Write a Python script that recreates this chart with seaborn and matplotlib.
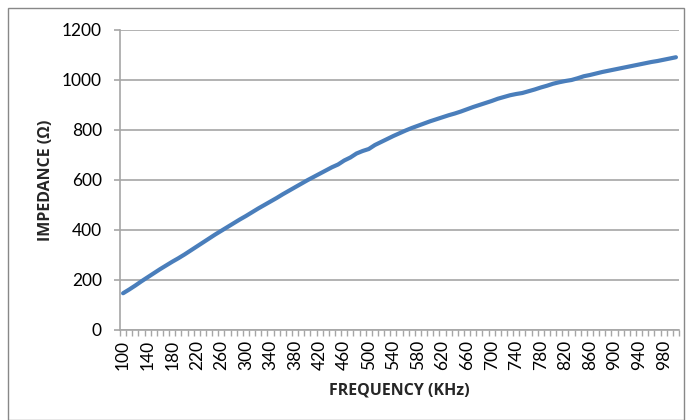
import matplotlib
matplotlib.use("Agg")
import matplotlib.pyplot as plt
from matplotlib.patches import Rectangle
from matplotlib.ticker import MultipleLocator
import seaborn as sns
import pandas as pd

# frequency points (kHz), one every 10 kHz
frequency = list(range(100, 1001, 10))

# impedance (ohm)
impedance = [
    147, 162, 178, 195, 211, 227, 243, 258, 273, 287,
    302, 318, 334, 350, 366, 382, 397, 412, 427, 442,
    456, 471, 486, 500, 514, 528, 543, 557, 571, 585,
    599, 612, 625, 638, 651, 662, 678, 690, 706, 716,
    724, 740, 752, 764, 776, 787, 798, 808, 817, 826,
    835, 843, 851, 859, 866, 874, 883, 892, 900, 908,
    916, 925, 932, 939, 944, 948, 955, 962, 970, 977,
    985, 991, 996, 1000, 1007, 1015, 1020, 1026, 1032, 1037,
    1042, 1047, 1052, 1057, 1062, 1067, 1072, 1076, 1081, 1086,
    1091, 1097,
][:len(frequency)]

x_labels = list(range(100, 1000, 40))
y_ticks = [0, 200, 400, 600, 800, 1000, 1200]

sns.set_theme(style="white")
plt.rcParams['font.family'] = ['Lato', 'DejaVu Sans']
bold_font = ['Open Sans', 'DejaVu Sans']

df = pd.DataFrame({'freq': frequency, 'imp': impedance})

fig = plt.figure(figsize=(6.9, 4.2), dpi=100)
ax = fig.add_axes([120 / 690, 1 - 330 / 420, 559 / 690, 300 / 420])

sns.lineplot(data=df, x='freq', y='imp', ax=ax, color='#4a7ebb', linewidth=3.0,
             solid_capstyle='round')

ax.set_xlim(95, 1005)
ax.set_ylim(0, 1200)
ax.set_yticks(y_ticks)
ax.set_xticks(x_labels)
ax.set_xticklabels([str(v) for v in x_labels], rotation=90)
ax.xaxis.set_minor_locator(MultipleLocator(10, offset=5))

grid_col = '#a6a6a6'
ax.yaxis.grid(True, color=grid_col, linewidth=1.2)
ax.xaxis.grid(False)
for side in ['top', 'right']:
    ax.spines[side].set_visible(False)
for side in ['left', 'bottom']:
    ax.spines[side].set_color(grid_col)
    ax.spines[side].set_linewidth(1.2)

ax.tick_params(axis='y', which='major', length=4, color=grid_col, width=1.2,
               left=True, pad=9, labelsize=12.5, labelcolor='black')
ax.tick_params(axis='x', which='major', length=0, pad=7, labelsize=12.5, labelcolor='black')
ax.tick_params(axis='x', which='minor', length=4, color=grid_col, width=1, bottom=True)

ax.set_xlabel('FREQUENCY (KHz)', fontsize=11.5, fontweight='bold', labelpad=9,
              family=bold_font)
ax.set_ylabel('IMPEDANCE (Ω)', fontsize=11.5, fontweight='bold', labelpad=6,
              family=bold_font)

fig.patches.append(Rectangle((8 / 690, 0), 676 / 690, 1 - 8 / 420,
                             transform=fig.transFigure, fill=False,
                             edgecolor='#888888', linewidth=1))

fig.savefig('out.png', dpi=100)
